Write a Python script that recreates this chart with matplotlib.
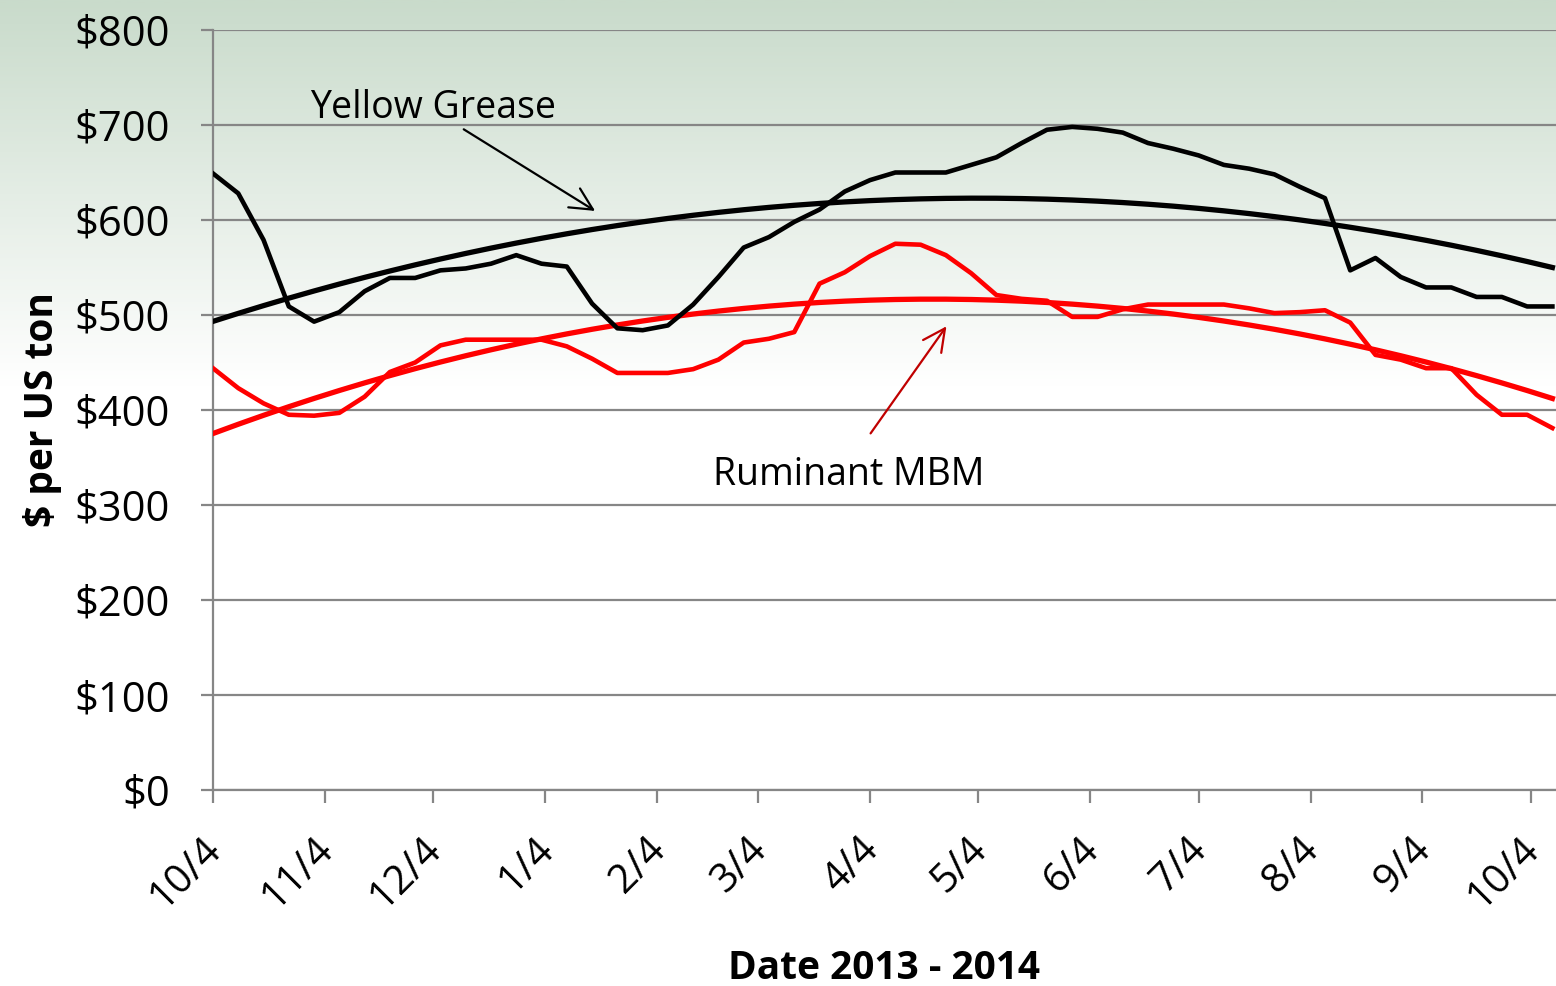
import numpy as np
import pandas as pd
import matplotlib
matplotlib.use('Agg')
import matplotlib.pyplot as plt
import matplotlib.transforms as mtransforms
from matplotlib.colors import LinearSegmentedColormap

plt.rcParams['font.family'] = ['Open Sans', 'DejaVu Sans']

# weekly prices, $ per US ton
dates = pd.date_range('2013-10-04', periods=54, freq='7D')
yellow_grease = [649, 628, 579, 509, 493, 503, 525, 539, 539, 547,
                 549, 554, 563, 554, 551, 512, 486, 484, 489, 511,
                 540, 571, 582, 598, 611, 630, 642, 650, 650, 650,
                 658, 666, 681, 695, 698, 696, 692, 681, 675, 668,
                 658, 654, 648, 635, 623, 547, 560, 540, 529, 529,
                 519, 519, 509, 509]
ruminant_mbm = [444, 423, 407, 395, 394, 397, 414, 440, 450, 468,
                474, 474, 474, 474, 467, 454, 439, 439, 439, 443,
                453, 471, 475, 482, 533, 545, 562, 575, 574, 563,
                544, 521, 517, 515, 498, 498, 506, 511, 511, 511,
                511, 507, 502, 503, 505, 492, 458, 453, 444, 444,
                416, 395, 395, 381]
tick_dates = pd.date_range('2013-10-01', periods=13, freq='MS') + pd.Timedelta(days=3)
tick_labels = ['10/4', '11/4', '12/4', '1/4', '2/4', '3/4', '4/4',
               '5/4', '6/4', '7/4', '8/4', '9/4', '10/4']
y_ticks = [0, 100, 200, 300, 400, 500, 600, 700, 800]

fig = plt.figure(figsize=(15.56, 9.86), dpi=100)

# background gradient (green at top fading to white)
bg = fig.add_axes([0, 0, 1, 1], zorder=-10)
cmap = LinearSegmentedColormap.from_list('bg', [(0, '#ffffff'), (0.61, '#ffffff'), (1, '#c9dbcb')])
grad = np.linspace(0, 1, 500).reshape(-1, 1)
bg.imshow(grad, aspect='auto', cmap=cmap, origin='lower', extent=[0, 1, 0, 1])
bg.axis('off')

ax = fig.add_axes([213/1556, 1-790/986, 1-213/1556, 760/986])
ax.set_facecolor('none')

# quadratic trend lines
days = np.array((dates - dates[0]).days, dtype=float)
yg_fit = np.polyval(np.polyfit(days, yellow_grease, 2), days)
mbm_fit = np.polyval(np.polyfit(days, ruminant_mbm, 2), days)

ax.plot(dates, yellow_grease, color='black', lw=3.3, solid_joinstyle='round', zorder=4)
ax.plot(dates, ruminant_mbm, color='#ff0000', lw=3.3, solid_joinstyle='round', zorder=3)
ax.plot(dates, yg_fit, color='black', lw=3.8, zorder=4)
ax.plot(dates, mbm_fit, color='#ff0000', lw=3.8, zorder=3)

ax.set_yticks(y_ticks)
ax.set_yticklabels(['${}'.format(v) for v in y_ticks])
ax.set_xticks(tick_dates)
ax.set_xticklabels([])
ax.set_ylim(0, 800)
ax.set_xlim(pd.Timestamp('2013-10-04'), pd.Timestamp('2014-10-11'))

# rotated date labels, placed by hand so they sit like Excel's
lbl_tr = mtransforms.offset_copy(ax.get_xaxis_transform(), fig=fig, x=17, y=-39, units='dots')
for d, lbl in zip(tick_dates, tick_labels):
    ax.text(d, 0, lbl, transform=lbl_tr, rotation=45, ha='right', va='top', fontsize=29)

grey = '#868686'
ax.grid(axis='y', color=grey, lw=1.6)
ax.set_axisbelow(True)
for s in ['top', 'right']:
    ax.spines[s].set_visible(False)
for s in ['left', 'bottom']:
    ax.spines[s].set_color(grey)
    ax.spines[s].set_linewidth(1.6)
ax.tick_params(axis='both', direction='out', length=9, width=1.6, color=grey)
ax.tick_params(axis='y', pad=22, labelsize=30)

ax.set_ylabel('$ per US ton', fontsize=28, fontweight='bold', labelpad=9)
ax.set_xlabel('Date 2013 - 2014', fontsize=28, fontweight='bold')
ax.xaxis.set_label_coords(0.5, -0.209)

# annotations
d0 = dates[0]
ax.text(d0 + pd.Timedelta(days=61), 718, 'Yellow Grease', fontsize=27, ha='center', va='center')
ax.annotate('', xy=(d0 + pd.Timedelta(days=106.5), 608), xytext=(d0 + pd.Timedelta(days=68.8), 697),
            arrowprops=dict(arrowstyle='->', color='black', lw=1.6, mutation_scale=40))
ax.text(d0 + pd.Timedelta(days=176), 332, 'Ruminant MBM', fontsize=27, ha='center', va='center')
ax.annotate('', xy=(d0 + pd.Timedelta(days=203.6), 490.5), xytext=(d0 + pd.Timedelta(days=181.7), 373),
            arrowprops=dict(arrowstyle='->', color='#c00000', lw=1.6, mutation_scale=40))

fig.savefig('out.png', dpi=100)
